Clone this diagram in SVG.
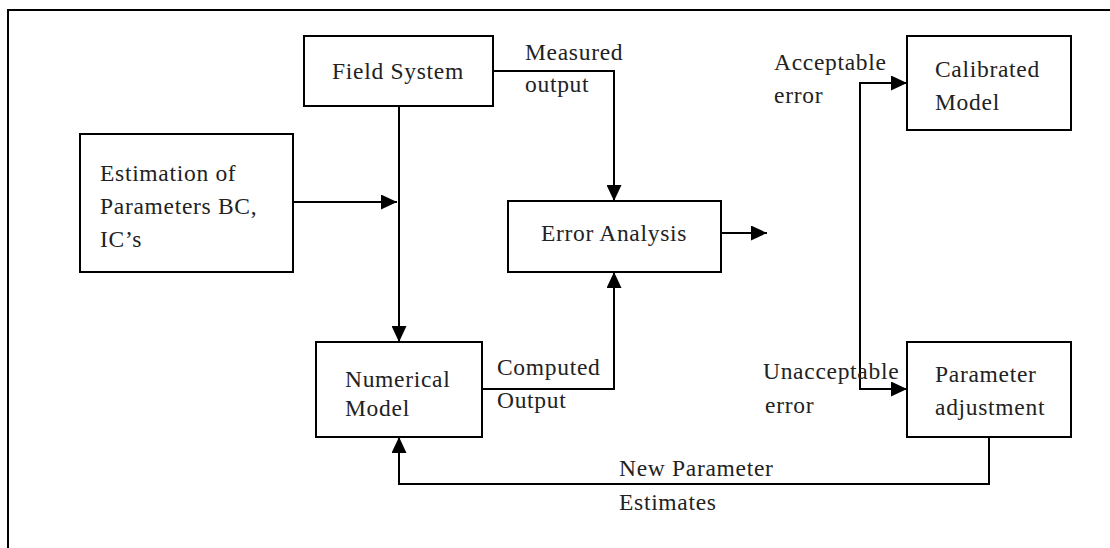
<svg xmlns="http://www.w3.org/2000/svg" width="1110" height="548" viewBox="0 0 1110 548">
<style>
.box{fill:#fff;stroke:#000;stroke-width:2}
.ln{fill:none;stroke:#000;stroke-width:2}
.t{font-family:"Liberation Serif","Times New Roman",serif;font-size:23.5px;fill:#222;letter-spacing:0.7px}
.m{text-anchor:middle}
</style>
<defs>
<marker id="ah" markerUnits="userSpaceOnUse" markerWidth="17" markerHeight="15" refX="16" refY="7.5" orient="auto">
<path d="M0,0 L16,7.5 L0,15 z" fill="#000"/>
</marker>
</defs>
<rect width="1110" height="548" fill="#fff"/>
<g id="frame"><path class="ln" d="M8,548 L8,10 L1110,10"/></g>
<g id="connectors">
<path class="ln" d="M399,106 L399,342" marker-end="url(#ah)"/>
<path class="ln" d="M293,202 L397,202" marker-end="url(#ah)"/>
<path class="ln" d="M493,71 L614,71 L614,201" marker-end="url(#ah)"/>
<path class="ln" d="M482,389 L614,389 L614,272" marker-end="url(#ah)"/>
<path class="ln" d="M721,233 L767,233" marker-end="url(#ah)"/>
<path class="ln" d="M860,236 L860,83 L907,83" marker-end="url(#ah)"/>
<path class="ln" d="M860,236 L860,389 L907,389" marker-end="url(#ah)"/>
<path class="ln" d="M989,437 L989,484 L399,484 L399,437" marker-end="url(#ah)"/>
</g>
<g id="field-system"><rect class="box" x="304" y="36" width="189" height="70"/><text class="t m" x="398" y="79">Field System</text></g>
<g id="estimation"><rect class="box" x="80" y="134" width="213" height="138"/><text class="t" x="100" y="181">Estimation of</text><text class="t" x="100" y="214">Parameters BC,</text><text class="t" x="100" y="247">IC’s</text></g>
<g id="numerical-model"><rect class="box" x="316" y="342" width="166" height="95"/><text class="t" x="345" y="387">Numerical</text><text class="t" x="345" y="416">Model</text></g>
<g id="error-analysis"><rect class="box" x="508" y="201" width="213" height="71"/><text class="t m" x="614" y="241">Error Analysis</text></g>
<g id="calibrated-model"><rect class="box" x="907" y="36" width="164" height="94"/><text class="t" x="935" y="77">Calibrated</text><text class="t" x="935" y="110">Model</text></g>
<g id="parameter-adjustment"><rect class="box" x="907" y="342" width="164" height="95"/><text class="t" x="935" y="382">Parameter</text><text class="t" x="935" y="415">adjustment</text></g>
<g id="labels">
<text class="t" x="525" y="60">Measured</text><text class="t" x="525" y="92">output</text>
<text class="t" x="497" y="375">Computed</text><text class="t" x="497" y="408">Output</text>
<text class="t" x="774" y="70">Acceptable</text><text class="t" x="774" y="103">error</text>
<text class="t" x="763" y="379">Unacceptable</text><text class="t" x="765" y="413">error</text>
<text class="t" x="619" y="476">New Parameter</text><text class="t" x="619" y="510">Estimates</text>
</g>
</svg>
